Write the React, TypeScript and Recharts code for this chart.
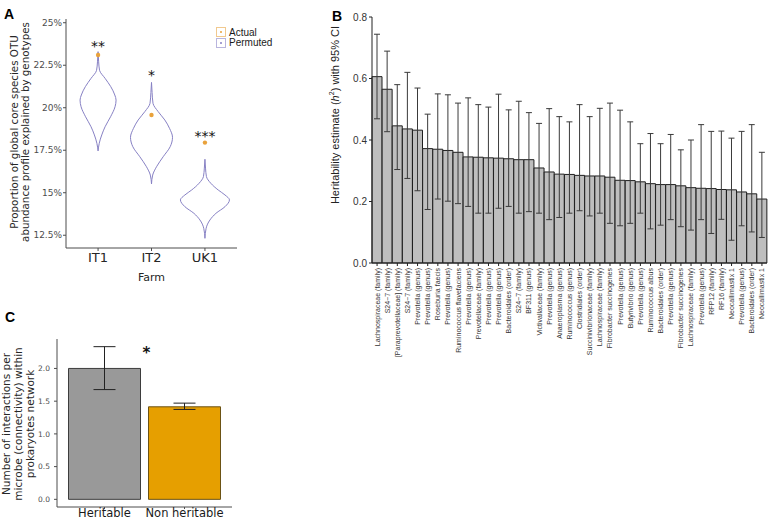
import React from "react";
import {
  Bar,
  BarChart,
  Cell,
  ErrorBar,
  Label,
  LabelList,
  Legend,
  Scatter,
  ScatterChart,
  XAxis,
  YAxis,
} from "recharts";

// ---- panel A: permutation violins ----
const FARMS = ["IT1", "IT2", "UK1"];
const ACTUAL = [23.1, 19.57, 17.95];
const SIGNIF_A = ["**", "*", "***"];
const SIGNIF_A_Y = [23.79, 22.12, 18.53];
const A_TICKS = [12.5, 15, 17.5, 20, 22.5, 25];

// permuted distribution outline: levels (%) and half width (in farm units)
const IT1_LEVELS = [17.46, 17.91, 18.4, 18.88, 19.47, 20.06, 20.45, 20.75, 21.24, 21.73, 22.2, 22.7, 23.3];
const IT1_HALF = [0, 0.022, 0.069, 0.131, 0.234, 0.318, 0.337, 0.313, 0.238, 0.131, 0.028, 0.011, 0];
const IT2_LEVELS = [15.52, 16.04, 16.53, 17.12, 17.71, 18.26, 18.79, 19.28, 19.77, 20.26, 20.9, 21.49];
const IT2_HALF = [0, 0.022, 0.094, 0.219, 0.35, 0.393, 0.337, 0.249, 0.125, 0.028, 0.011, 0];
const UK1_LEVELS = [12.32, 12.91, 13.4, 13.79, 14.18, 14.58, 14.87, 15.16, 15.56, 15.95, 16.45, 16.97];
const UK1_HALF = [0, 0.022, 0.094, 0.206, 0.375, 0.459, 0.375, 0.249, 0.109, 0.028, 0.011, 0];

// ---- panel B: heritability per OTU ----
const TAXA = [
  "Lachnospiraceae (family)", "S24\u22127 (family)", "[Paraprevotellaceae] (family)", "S24\u22127 (family)",
  "Prevotella (genus)", "Prevotella (genus)", "Roseburia faecis", "Prevotella (genus)",
  "Ruminococcus flavefaciens", "Prevotella (genus)", "Prevotellaceae (family)", "Prevotella (genus)",
  "Prevotella (genus)", "Bacteroidales (order)", "S24\u22127 (family)", "BF311 (genus)",
  "Victivallaceae (family)", "Prevotella (genus)", "Anaeroplasma (genus)", "Ruminococcus (genus)",
  "Clostridiales (order)", "Succinivibrionaceae (family)", "Lachnospiraceae (family)", "Fibrobacter succinogenes",
  "Prevotella (genus)", "Butyrivibrio (genus)", "Prevotella (genus)", "Ruminococcus albus",
  "Bacteroidales (order)", "Prevotella (genus)", "Fibrobacter succinogenes", "Lachnospiraceae (family)",
  "Prevotella (genus)", "RFP12 (family)", "RF16 (family)", "Neocallimastix 1",
  "Prevotella (genus)", "Bacteroidales (order)", "Neocallimastix 1",
];
const H2 = [
  0.606, 0.565, 0.446, 0.436, 0.432, 0.372, 0.37, 0.366, 0.36, 0.345, 0.344, 0.342, 0.341,
  0.339, 0.336, 0.336, 0.309, 0.296, 0.289, 0.288, 0.285, 0.283, 0.283, 0.279, 0.269, 0.268,
  0.264, 0.258, 0.255, 0.255, 0.251, 0.245, 0.243, 0.242, 0.239, 0.238, 0.231, 0.225, 0.208,
];
const CI_HIGH = [
  0.744, 0.689, 0.58, 0.62, 0.569, 0.484, 0.55, 0.547, 0.52, 0.537, 0.515, 0.507, 0.549,
  0.498, 0.526, 0.489, 0.454, 0.502, 0.476, 0.459, 0.515, 0.476, 0.503, 0.52, 0.497, 0.459,
  0.388, 0.421, 0.388, 0.418, 0.368, 0.4, 0.45, 0.428, 0.429, 0.406, 0.428, 0.45, 0.36,
];
const CI_LOW = [
  0.469, 0.427, 0.304, 0.275, 0.235, 0.174, 0.208, 0.201, 0.193, 0.184, 0.162, 0.162, 0.178,
  0.184, 0.162, 0.167, 0.162, 0.141, 0.148, 0.162, 0.17, 0.153, 0.162, 0.129, 0.121, 0.129,
  0.162, 0.111, 0.123, 0.141, 0.118, 0.107, 0.141, 0.096, 0.142, 0.074, 0.121, 0.101, 0.083,
];
const B_TICKS = [0, 0.2, 0.4, 0.6, 0.8];

// ---- panel C: connectivity ----
const GROUPS = ["Heritable", "Non heritable"];
const CONNECTIVITY = [2.0, 1.414];
const CONN_LOW = [1.677, 1.374];
const CONN_HIGH = [2.333, 1.47];
const SIGNIF_C = ["*", ""];
const C_TICKS = [0, 0.5, 1, 1.5, 2];

const GG_FONT = "DejaVu Sans, sans-serif";
const ARIAL = "Liberation Sans, Arial, sans-serif";
const VIOLIN = "#8781c4";
const ORANGE = "#e9a23b";

const LEGEND_ITEMS = [
  { label: "Actual", color: ORANGE, border: "#f1c98f" },
  { label: "Permuted", color: VIOLIN, border: "#b9b5de" },
];

function violinSides(center: number, levels: number[], half: number[]) {
  const left = levels.map((y, i) => ({ x: center - half[i], y }));
  const right = levels.map((y, i) => ({ x: center + half[i], y }));
  return [left, right];
}

const violins = [
  ...violinSides(1, IT1_LEVELS, IT1_HALF),
  ...violinSides(2, IT2_LEVELS, IT2_HALF),
  ...violinSides(3, UK1_LEVELS, UK1_HALF),
];
const actualPoints = ACTUAL.map((y, i) => ({ x: i + 1, y }));
const starPoints = SIGNIF_A.map((label, i) => ({ x: i + 1, y: SIGNIF_A_Y[i], label }));

const heritData = TAXA.map((taxon, i) => ({
  taxon,
  h2: H2[i],
  ci: [H2[i] - CI_LOW[i], CI_HIGH[i] - H2[i]],
}));

const connData = GROUPS.map((group, i) => ({
  group,
  value: CONNECTIVITY[i],
  err: [CONNECTIVITY[i] - CONN_LOW[i], CONN_HIGH[i] - CONNECTIVITY[i]],
  signif: SIGNIF_C[i],
}));
const CONN_FILL = ["#999999", "#e69f00"];
const CONN_STROKE = ["#3d3d3d", "#6b5214"];

function ViolinLegend() {
  return (
    <div style={{ fontFamily: ARIAL, fontSize: 10, color: "#1a1a1a" }}>
      {LEGEND_ITEMS.map((item) => (
        <div key={item.label} style={{ display: "flex", alignItems: "center", height: 10.5 }}>
          <span
            style={{
              width: 8,
              height: 8,
              border: `1px solid ${item.border}`,
              display: "flex",
              alignItems: "center",
              justifyContent: "center",
              marginRight: 3,
            }}
          >
            <span style={{ width: 2, height: 2, borderRadius: "50%", background: item.color }} />
          </span>
          {item.label}
        </div>
      ))}
    </div>
  );
}

function TaxonTick(props: any) {
  const { x, y, payload } = props;
  return (
    <text
      x={x}
      y={y}
      dy="0.35em"
      transform={`rotate(-90, ${x}, ${y})`}
      textAnchor="end"
      fontFamily={ARIAL}
      fontSize={7}
      fill="#333"
    >
      {payload.value}
    </text>
  );
}

function PanelA() {
  return (
    <ScatterChart width={250} height={290} margin={{ top: 19, right: 13, bottom: 0, left: 0 }}>
      <XAxis
        type="number"
        dataKey="x"
        domain={[0.4, 3.6]}
        ticks={[1, 2, 3]}
        allowDataOverflow
        tickFormatter={(v: number) => FARMS[v - 1]}
        height={42}
        tickSize={3}
        tickMargin={2}
        stroke="#4d4d4d"
        tick={{ fontSize: 13, fill: "#262626", fontFamily: GG_FONT }}
      >
        <Label value="Farm" position="insideBottom" offset={9} style={{ fontSize: 11, fill: "#262626", fontFamily: GG_FONT }} />
      </XAxis>
      <YAxis
        type="number"
        dataKey="y"
        domain={[11.75, 25.22]}
        ticks={A_TICKS}
        allowDataOverflow
        width={66}
        tickSize={3}
        tickMargin={1}
        stroke="#4d4d4d"
        tickFormatter={(v: number) => `${v}%`}
        tick={{ fontSize: 9, fill: "#4d4d4d", fontFamily: GG_FONT }}
      >
        <Label
          content={() => (
            <text
              transform="rotate(-90, 0, 0)"
              textAnchor="middle"
              fontFamily={GG_FONT}
              fontSize={10.3}
              fill="#262626"
            >
              <tspan x={-132} y={18}>Proportion of global core species OTU</tspan>
              <tspan x={-132} y={29}>abundance profile explained by genotypes</tspan>
            </text>
          )}
        />
      </YAxis>
      <Legend
        layout="vertical"
        align="center"
        verticalAlign="middle"
        content={ViolinLegend}
        wrapperStyle={{ left: 216, top: 27, width: "auto" }}
      />
      {violins.map((side, i) => (
        <Scatter
          key={i}
          data={side}
          line={{ stroke: VIOLIN, strokeWidth: 1 }}
          lineType="joint"
          lineJointType="monotoneY"
          shape={() => <g />}
          isAnimationActive={false}
          legendType="none"
        />
      ))}
      <Scatter
        data={actualPoints}
        isAnimationActive={false}
        shape={(p: any) => <circle cx={p.cx} cy={p.cy} r={2.2} fill={ORANGE} />}
      />
      <Scatter
        data={starPoints}
        isAnimationActive={false}
        shape={(p: any) => (
          <text x={p.cx} y={p.cy + 8} textAnchor="middle" fontFamily={GG_FONT} fontSize={14} fill="#111">
            {p.payload.label}
          </text>
        )}
      />
    </ScatterChart>
  );
}

function PanelB() {
  return (
    <BarChart
      width={449}
      height={519}
      data={heritData}
      margin={{ top: 17, right: 2, bottom: 0, left: 0 }}
      barCategoryGap={0}
    >
      <XAxis
        dataKey="taxon"
        interval={0}
        height={256}
        tickSize={3}
        tickMargin={2}
        stroke="#222"
        tick={<TaxonTick />}
      />
      <YAxis
        domain={[0, 0.8]}
        ticks={B_TICKS}
        width={52}
        tickSize={3}
        tickMargin={2}
        stroke="#222"
        tickFormatter={(v: number) => v.toFixed(1)}
        tick={{ fontSize: 10, fill: "#333", fontFamily: ARIAL }}
      >
        <Label
          content={() => (
            <text
              x={15}
              y={115}
              transform="rotate(-90, 15, 115)"
              textAnchor="middle"
              dominantBaseline="central"
              fontFamily={ARIAL}
              fontSize={11}
              fill="#222"
            >
              Heritability estimate (<tspan fontStyle="italic">h</tspan>
              <tspan dy={-4} fontSize={7}>2</tspan>
              <tspan dy={4}>) with 95% CI</tspan>
            </text>
          )}
        />
      </YAxis>
      <Bar dataKey="h2" fill="#bebebe" stroke="#1f1f1f" strokeWidth={1} isAnimationActive={false}>
        <ErrorBar dataKey="ci" width={3} stroke="#3a3a3a" strokeWidth={1} />
      </Bar>
    </BarChart>
  );
}

function PanelC() {
  return (
    <BarChart width={250} height={240} data={connData} margin={{ top: 39, right: 18, bottom: 0, left: 0 }}>
      <XAxis
        dataKey="group"
        height={33}
        padding={{ left: 7.5, right: 7.5 }}
        tickSize={2}
        tickMargin={0}
        stroke="#4d4d4d"
        tick={{ fontSize: 11.5, fill: "#1a1a1a", fontFamily: GG_FONT }}
      />
      <YAxis
        domain={[-0.117, 2.45]}
        ticks={C_TICKS}
        allowDataOverflow
        width={57}
        tickSize={3}
        tickMargin={4}
        stroke="#4d4d4d"
        tickFormatter={(v: number) => v.toFixed(1)}
        tick={{ fontSize: 7.5, fill: "#4d4d4d", fontFamily: GG_FONT }}
      >
        <Label
          content={() => (
            <text transform="rotate(-90, 0, 0)" textAnchor="middle" fontFamily={GG_FONT} fontSize={10.5} fill="#262626">
              <tspan x={-124} y={10}>Number of interactions per</tspan>
              <tspan x={-124} y={22}>microbe (connectivity) within</tspan>
              <tspan x={-124} y={34}>prokaryotes network</tspan>
            </text>
          )}
        />
      </YAxis>
      <Bar dataKey="value" barSize={72} strokeWidth={1} isAnimationActive={false}>
        {connData.map((d, i) => (
          <Cell key={d.group} fill={CONN_FILL[i]} stroke={CONN_STROKE[i]} />
        ))}
        <ErrorBar dataKey="err" width={11} stroke="#222" strokeWidth={1} />
        <LabelList
          dataKey="signif"
          content={(p: any) =>
            p.value ? (
              <text
                x={p.x + p.width + 6}
                y={p.y - 10}
                textAnchor="middle"
                fontFamily={GG_FONT}
                fontSize={15}
                fontWeight="bold"
                fill="#111"
              >
                {p.value}
              </text>
            ) : null
          }
        />
      </Bar>
    </BarChart>
  );
}

export default function App() {
  return (
    <div
      style={{
        position: "absolute",
        left: 0,
        top: 0,
        width: 769,
        height: 519,
        overflow: "hidden",
        background: "#fff",
      }}
    >
      <div style={{ position: "absolute", left: 0, top: 0 }}>
        <PanelA />
      </div>
      <div style={{ position: "absolute", left: 320, top: 0 }}>
        <PanelB />
      </div>
      <div style={{ position: "absolute", left: 0, top: 300 }}>
        <PanelC />
      </div>
      {[
        { t: "A", x: 4, y: 6 },
        { t: "B", x: 332, y: 8 },
        { t: "C", x: 5, y: 309 },
      ].map((p) => (
        <div
          key={p.t}
          style={{
            position: "absolute",
            left: p.x,
            top: p.y,
            fontFamily: ARIAL,
            fontWeight: "bold",
            fontSize: 14,
            lineHeight: "16px",
            color: "#000",
          }}
        >
          {p.t}
        </div>
      ))}
    </div>
  );
}
